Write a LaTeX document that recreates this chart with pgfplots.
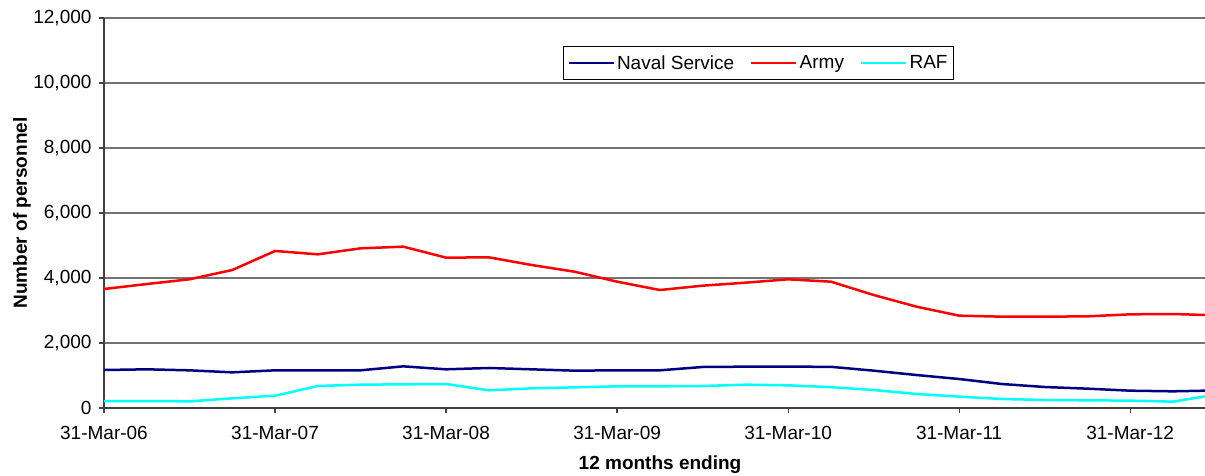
\documentclass[border=0pt]{standalone}
\usepackage{fontspec}
\setmainfont{Liberation Sans}
\usepackage{pgfplots}
\pgfplotsset{compat=1.18}
\usepackage{pgfplotstable}

\definecolor{naval}{RGB}{0,0,128}
\definecolor{army}{RGB}{255,0,0}
\definecolor{raf}{RGB}{0,255,255}

% quarter index: 0 = 31-Mar-06, 4 = 31-Mar-07, ...
\pgfplotstableread{
q   naval army raf
0   1169  3662  215
1   1190  3815  215
2   1159  3960  205
3   1097  4246  297
4   1159  4831  379
5   1159  4728  677
6   1159  4913  718
7   1282  4964  728
8   1190  4626  738
9   1231  4636  544
10  1190  4400  605
11  1149  4195  636
12  1159  3887  667
13  1159  3630  667
14  1262  3764  677
15  1272  3856  718
16  1272  3959  697
17  1267  3887  641
18  1149  3477  554
19  1015  3118  431
20   892  2841  349
21   738  2810  277
22   646  2810  246
23   595  2820  236
24   533  2882  226
25   513  2892  195
26   540  2852  412
}\outflow

\begin{document}
\begin{tikzpicture}
\begin{axis}[
    scale only axis,
    width=1101pt, height=390pt,
    xmin=0, xmax=25.75,
    ymin=0, ymax=12000,
    xtick={0,4,8,12,16,20,24},
    xticklabels={31-Mar-06,31-Mar-07,31-Mar-08,31-Mar-09,31-Mar-10,31-Mar-11,31-Mar-12},
    ytick={0,2000,4000,6000,8000,10000,12000},
    scaled y ticks=false,
    /pgf/number format/.cd, 1000 sep={,}, assume math mode=true,
    /pgfplots/.cd,
    axis lines=left,
    axis line style={-, line width=2pt, draw=black!75},
    tick align=outside,
    major tick length=5pt,
    tick style={line width=1.2pt, draw=black!75},
    ymajorgrids=true,
    grid style={line width=1.3pt, draw=black!55},
    tick label style={font=\fontsize{19}{22}\selectfont},
    xticklabel style={anchor=center, yshift=-20pt},
    yticklabel style={anchor=east, xshift=-4pt},
    xlabel={12 months ending},
    ylabel={Number of personnel},
    label style={font=\bfseries\fontsize{19}{22}\selectfont},
    xlabel style={at={(axis description cs:0.505,-0.146)}, anchor=center},
    ylabel style={at={(axis description cs:-0.0745,0.5)}, anchor=center, rotate=0},
    legend columns=3,
    legend image code/.code={\draw[#1] (0pt,0pt) -- (45pt,0pt);},
    legend style={at={(0.4169,0.9282)}, anchor=north west,
        draw=black, line width=1pt, fill=white,
        font=\fontsize{19}{22}\selectfont,
        inner xsep=4pt, inner ysep=7pt,
        nodes={inner sep=2pt},
        /tikz/every even column/.append style={column sep=14pt}},
]
\addplot[naval, line width=2.5pt] table[x=q, y=naval] {\outflow};
\addlegendentry{Naval Service}
\addplot[army, line width=2.5pt] table[x=q, y=army] {\outflow};
\addlegendentry{Army}
\addplot[raf, line width=2.5pt] table[x=q, y=raf] {\outflow};
\addlegendentry{RAF}
\end{axis}
\pgfresetboundingbox
\useasboundingbox (-104pt,-68pt) rectangle (1101pt,408pt);
\end{tikzpicture}
\end{document}
